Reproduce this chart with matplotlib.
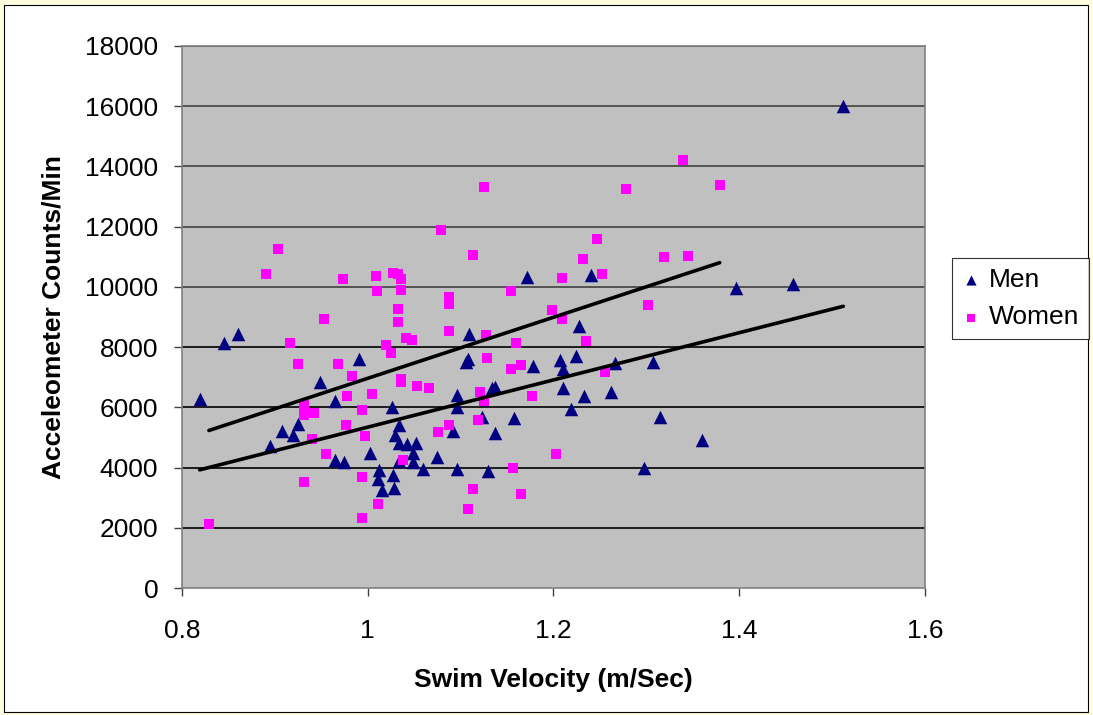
import numpy as np
import matplotlib
matplotlib.use("Agg")
import matplotlib.pyplot as plt
from matplotlib.patches import Rectangle

plt.rcParams['font.family'] = ['Liberation Sans', 'DejaVu Sans']

# swim velocity (m/s) and accelerometer counts per minute
men_v = [0.819, 0.845, 0.860, 0.895, 0.908, 0.920, 0.925, 0.949, 0.965, 0.965,
         0.974, 0.991, 1.002, 1.012, 1.011, 1.015, 1.026, 1.027, 1.028, 1.029,
         1.034, 1.034, 1.034, 1.042, 1.049, 1.049, 1.052, 1.060, 1.075, 1.092,
         1.096, 1.096, 1.096, 1.106, 1.108, 1.109, 1.123, 1.129, 1.134, 1.137,
         1.137, 1.157, 1.171, 1.178, 1.207, 1.210, 1.210, 1.219, 1.224, 1.227,
         1.233, 1.240, 1.262, 1.266, 1.297, 1.307, 1.315, 1.360, 1.397, 1.458,
         1.512]
men_c = [6280, 8140, 8440, 4720, 5210, 5080, 5450, 6840, 6210, 4250,
         4180, 7600, 4480, 3920, 3620, 3260, 6010, 3750, 3320, 5080,
         5410, 4820, 4220, 4780, 4480, 4180, 4820, 3950, 4350, 5210,
         6410, 6010, 3950, 7500, 7600, 8440, 5680, 3890, 6640, 6680,
         5150, 5650, 10330, 7370, 7570, 7270, 6640, 5950, 7700, 8700,
         6380, 10400, 6510, 7470, 3990, 7500, 5680, 4920, 9960, 10100,
         16010]

women_v = [0.829, 0.890, 0.903, 0.916, 0.925, 0.931, 0.931, 0.931, 0.940, 0.942,
           0.953, 0.955, 0.968, 0.973, 0.977, 0.978, 0.983, 0.994, 0.994, 0.994,
           0.997, 1.005, 1.009, 1.010, 1.011, 1.020, 1.025, 1.027, 1.033, 1.036,
           1.036, 1.033, 1.033, 1.036, 1.036, 1.038, 1.041, 1.048, 1.053, 1.066,
           1.076, 1.079, 1.087, 1.087, 1.087, 1.087, 1.108, 1.113, 1.113, 1.119,
           1.121, 1.125, 1.125, 1.127, 1.128, 1.154, 1.154, 1.156, 1.160, 1.165,
           1.165, 1.177, 1.198, 1.203, 1.209, 1.209, 1.232, 1.235, 1.247, 1.252,
           1.255, 1.278, 1.302, 1.319, 1.339, 1.345, 1.379]
women_c = [2130, 10430, 11260, 8140, 7440, 6080, 5750, 3520, 4950, 5810,
           8930, 4450, 7440, 10260, 5410, 6380, 7040, 5910, 3690, 2330,
           5050, 6440, 10360, 9860, 2790, 8070, 7800, 10460, 10430, 10260,
           9900, 9270, 8830, 6940, 6840, 4250, 8300, 8240, 6710, 6640,
           5180, 11890, 9660, 9430, 8540, 5410, 2620, 11060, 3290, 5580,
           6510, 13320, 6210, 8400, 7640, 9860, 7270, 3990, 8140, 7410,
           3120, 6380, 9230, 4450, 10300, 8930, 10930, 8200, 11590, 10430,
           7170, 13250, 9400, 10990, 14210, 11030, 13380]

xticks = [0.8, 1.0, 1.2, 1.4, 1.6]
xticklabels = ['0.8', '1', '1.2', '1.4', '1.6']
yticks = list(range(0, 18001, 2000))

fig = plt.figure(figsize=(10.93, 7.15), dpi=100)
fig.patch.set_facecolor('#FFFFE0')
fig.patches.append(Rectangle((0.004, 0.004), 0.991, 0.989, transform=fig.transFigure,
                             facecolor='white', edgecolor='black', linewidth=0.8, zorder=-5))

ax = fig.add_axes([0.1665, 0.1776, 0.6798, 0.7581])
ax.set_zorder(1)
ax.set_facecolor('#C0C0C0')
for s in ax.spines.values():
    s.set_color('#808080')
    s.set_linewidth(1.2)

for y in yticks[1:]:
    ax.axhline(y, color='#404040' if y >= 10000 else 'black', linewidth=1.2, zorder=1)

ax.scatter(men_v, men_c, marker='^', s=95, color='#000080', label='Men', zorder=3, linewidths=0)
ax.scatter(women_v, women_c, marker='s', s=60, color='#FF00FF', label='Women', zorder=3, linewidths=0)

# linear trendlines over each group's range
for v, c in [(men_v, men_c), (women_v, women_c)]:
    k, b = np.polyfit(v, c, 1)
    xs = np.array([min(v), max(v)])
    ax.plot(xs, k * xs + b, color='black', linewidth=2.6, zorder=4, solid_capstyle='round')

ax.set_xlim(0.8, 1.6)
ax.set_ylim(0, 18000)
ax.set_xticks(xticks)
ax.set_xticklabels(xticklabels)
ax.set_yticks(yticks)
ax.tick_params(axis='both', labelsize=19, length=6, color='#404040', width=1)
ax.tick_params(axis='x', pad=16)
ax.tick_params(axis='y', pad=11)
ax.set_xlabel('Swim Velocity (m/Sec)', fontsize=19, fontweight='bold', labelpad=18)
ax.set_ylabel('Acceleometer Counts/Min', fontsize=19, fontweight='bold', labelpad=14)

leg = fig.legend(loc='center left', bbox_to_anchor=(0.871, 0.582), fontsize=19,
                 frameon=True, fancybox=False, edgecolor='black', markerscale=0.75,
                 handletextpad=0.3, borderpad=0.38, labelspacing=0.5, handlelength=0.7,
                 borderaxespad=0)
leg.get_frame().set_linewidth(0.8)

fig.savefig('out.png', dpi=100, facecolor=fig.get_facecolor())
